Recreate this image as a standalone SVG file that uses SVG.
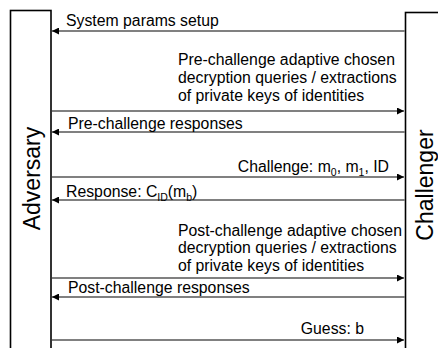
<svg xmlns="http://www.w3.org/2000/svg" width="438" height="348" viewBox="0 0 438 348">
<defs>
<style>
.box{fill:#fff;stroke:#000;stroke-width:1.6}
.msg{stroke:#808080;stroke-width:2;fill:none}
.t{font-family:"Liberation Sans",Arial,sans-serif;font-size:15.8px;fill:#000}
.big{font-family:"Liberation Sans",Arial,sans-serif;font-size:23px;fill:#000}
.sub{font-size:10.5px}
</style>
<marker id="ah" viewBox="0 0 10 10" refX="10" refY="5" markerWidth="7" markerHeight="7" markerUnits="userSpaceOnUse" orient="auto">
<path d="M0,0 L10,5 L0,10 Z" fill="#000"/>
</marker>
</defs>
<rect width="438" height="348" fill="#fff"/>
<g id="adversary">
<rect class="box" x="10.5" y="10.5" width="40.5" height="350"/>
<text class="big" text-anchor="middle" transform="translate(40,178.5) rotate(-90)">Adversary</text>
</g>
<g id="challenger">
<rect class="box" x="405.5" y="12.5" width="50" height="350"/>
<text class="big" text-anchor="middle" transform="translate(433,185) rotate(-90)">Challenger</text>
</g>
<g id="connectors">
<line class="msg" x1="405" y1="31" x2="52" y2="31" marker-end="url(#ah)"/>
<line class="msg" x1="52" y1="111" x2="404" y2="111" marker-end="url(#ah)"/>
<line class="msg" x1="405" y1="132" x2="52" y2="132" marker-end="url(#ah)"/>
<line class="msg" x1="52" y1="177" x2="404" y2="177" marker-end="url(#ah)"/>
<line class="msg" x1="405" y1="200" x2="52" y2="200" marker-end="url(#ah)"/>
<line class="msg" x1="52" y1="278" x2="404" y2="278" marker-end="url(#ah)"/>
<line class="msg" x1="405" y1="297" x2="52" y2="297" marker-end="url(#ah)"/>
<line class="msg" x1="52" y1="340" x2="404" y2="340" marker-end="url(#ah)"/>
</g>
<g id="labels">
<text class="t" x="66" y="26">System params setup</text>
<text class="t" x="178"><tspan x="178" y="65">Pre-challenge adaptive chosen</tspan><tspan x="178" y="83">decryption queries / extractions</tspan><tspan x="178" y="101">of private keys of identities</tspan></text>
<text class="t" x="68" y="128.5">Pre-challenge responses</text>
<text class="t" x="389" y="172" text-anchor="end">Challenge: m<tspan class="sub" dy="4">0</tspan><tspan dy="-4">, m</tspan><tspan class="sub" dy="4">1</tspan><tspan dy="-4">, ID</tspan></text>
<text class="t" x="66" y="196.5">Response: C<tspan class="sub" dy="4">ID</tspan><tspan dy="-4">(m</tspan><tspan class="sub" dy="4">b</tspan><tspan dy="-4">)</tspan></text>
<text class="t" x="178"><tspan x="178" y="235.5">Post-challenge adaptive chosen</tspan><tspan x="178" y="253">decryption queries / extractions</tspan><tspan x="178" y="270.5">of private keys of identities</tspan></text>
<text class="t" x="68" y="293">Post-challenge responses</text>
<text class="t" x="364" y="333.5" text-anchor="end">Guess: b</text>
</g>
</svg>
